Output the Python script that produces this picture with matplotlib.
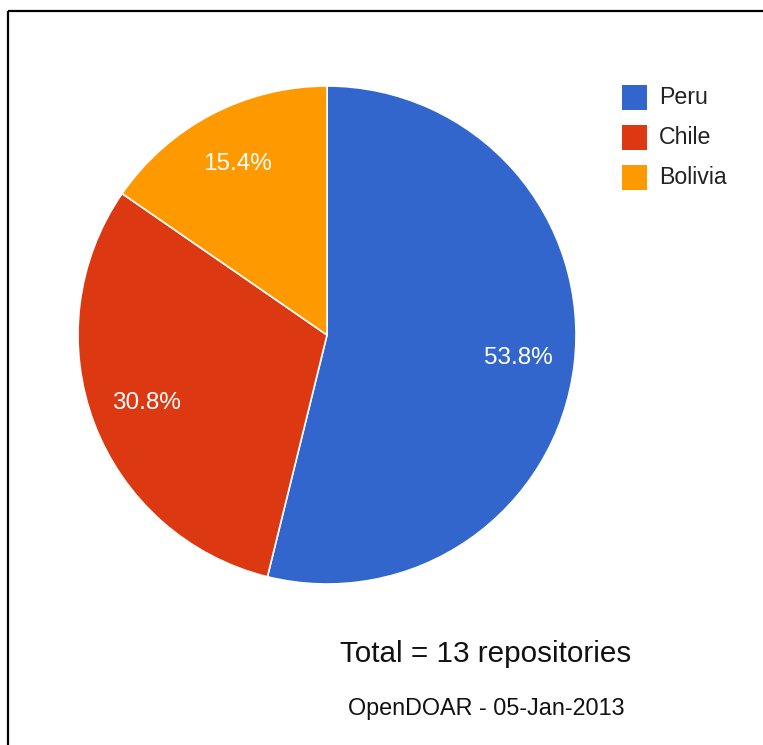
import matplotlib
matplotlib.use("Agg")
import matplotlib.pyplot as plt
from matplotlib.patches import Rectangle

plt.rcParams['font.family'] = ['Liberation Sans', 'DejaVu Sans']

# data
countries = ["Peru", "Chile", "Bolivia"]
repositories = [7, 4, 2]
colors = ["#3366CC", "#DC3912", "#FF9900"]
total_text = "Total = %d repositories" % sum(repositories)
source_text = "OpenDOAR - 05-Jan-2013"

W, H = 763, 745


def py(y):
    # pixel row (top-down) -> axes y
    return H - y


fig = plt.figure(figsize=(W / 100, H / 100), dpi=100)
ax = fig.add_axes([0, 0, 1, 1])
ax.set_xlim(0, W)
ax.set_ylim(0, H)
ax.set_aspect("equal")
ax.axis("off")

wedges, texts, autotexts = ax.pie(
    repositories, colors=colors, startangle=90, counterclock=False,
    center=(327, py(335)), radius=249, autopct="%.1f%%", pctdistance=0.775,
    wedgeprops=dict(edgecolor="white", linewidth=1.2),
    textprops=dict(color="white", fontsize=17.5))
ax.set_xlim(0, W)
ax.set_ylim(0, H)

# legend drawn by hand
for i, (name, col) in enumerate(zip(countries, colors)):
    top = 85 + i * 40
    ax.add_patch(Rectangle((622, py(top + 25)), 25, 25, facecolor=col, edgecolor="none"))
    ax.text(659, py(top + 13), name, fontsize=16.7, color="#222222", va="center", ha="left")

ax.text(486, py(654), total_text, fontsize=21.3, color="#111111", ha="center", va="center")
ax.text(486, py(709), source_text, fontsize=16.8, color="#111111", ha="center", va="center")

# frame edges
ax.plot([8, 8], [0, py(11)], color="black", lw=1.6, solid_capstyle="butt")
ax.plot([8, W], [py(11), py(11)], color="black", lw=1.6, solid_capstyle="butt")

fig.savefig("out.png", dpi=100)
